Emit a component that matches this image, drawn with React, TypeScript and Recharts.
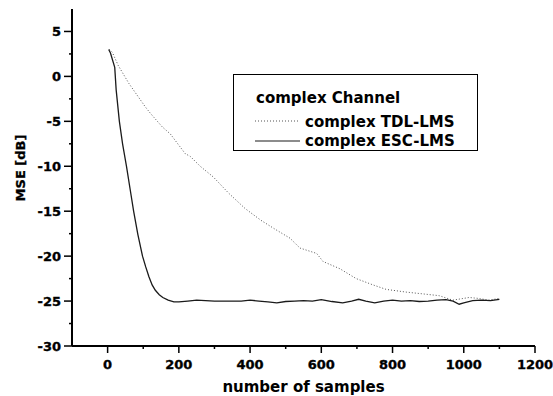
import { LineChart, Line, XAxis, YAxis, Legend, Label } from "recharts";

// samples / MSE
const tdlSamples = [5, 13, 30, 60, 106, 120, 153, 176, 218, 232, 260, 297, 340, 386, 430, 470, 512, 540, 587, 605, 652, 698, 745, 782, 838, 885, 931, 969, 1000, 1015, 1040, 1071, 1100];
const tdlMse = [3, 2.7, 1.2, -0.8, -3.4, -4.1, -5.6, -6.4, -8.6, -8.9, -10.0, -11.2, -13.0, -14.7, -16.0, -17.0, -18.0, -19.1, -19.7, -20.6, -21.4, -22.5, -23.2, -23.7, -24.0, -24.2, -24.4, -24.9, -24.7, -24.6, -24.7, -24.9, -24.7];

const escSamples = [3, 8, 20, 24, 33, 42, 53, 63, 73, 85, 98, 107, 116, 125, 134, 145, 155, 170, 186, 200, 225, 250, 275, 300, 325, 350, 375, 400, 425, 450, 475, 500, 525, 550, 575, 600, 630, 660, 685, 705, 725, 750, 775, 800, 825, 850, 875, 900, 925, 950, 970, 987, 1000, 1025, 1050, 1075, 1100];
const escMse = [3, 2.6, 1, -1.5, -5, -7.5, -10, -12.5, -15, -17.6, -20, -21.2, -22.3, -23.2, -23.8, -24.3, -24.6, -24.9, -25.1, -25.1, -25.0, -24.9, -24.95, -25.0, -25.0, -25.0, -25.0, -24.9, -25.0, -25.1, -25.2, -25.05, -25.0, -24.95, -25.0, -24.85, -25.05, -25.2, -25.0, -24.8, -25.0, -25.2, -25.0, -24.9, -25.0, -24.95, -25.05, -25.0, -24.9, -24.85, -25.0, -25.35, -25.2, -24.95, -24.9, -24.95, -24.8];

const xTicks = [0, 100, 200, 300, 400, 500, 600, 700, 800, 900, 1000, 1100, 1200];
const yTicks = [-30, -27.5, -25, -22.5, -20, -17.5, -15, -12.5, -10, -7.5, -5, -2.5, 0, 2.5, 5];

const legendTitle = "complex Channel";
const legendOrder = ["complex TDL-LMS", "complex ESC-LMS"];

const tdlData = tdlSamples.map((x, i) => ({ x, y: tdlMse[i] }));
const escData = escSamples.map((x, i) => ({ x, y: escMse[i] }));

const font = "DejaVu Sans";

const XTick = (props: any) => {
  const { x, y, payload } = props;
  const major = payload.value % 200 === 0;
  return (
    <g>
      <line x1={x} x2={x} y1={y} y2={y + (major ? 7 : 3)} stroke="#000" strokeWidth={1.5} />
      {major && (
        <text x={x} y={y + 22.5} textAnchor="middle" fontFamily={font} fontWeight={700} fontSize={13} fill="#000" stroke="#000" strokeWidth={0.35}>
          {payload.value}
        </text>
      )}
    </g>
  );
};

const YTick = (props: any) => {
  const { x, y, payload } = props;
  const major = payload.value % 5 === 0;
  return (
    <g>
      <line x1={x - (major ? 8 : 3)} x2={x} y1={y} y2={y} stroke="#000" strokeWidth={1.5} />
      {major && (
        <text x={x - 11} y={y + 4.7} textAnchor="end" fontFamily={font} fontWeight={700} fontSize={13} fill="#000" stroke="#000" strokeWidth={0.35}>
          {payload.value}
        </text>
      )}
    </g>
  );
};

const renderLegend = (props: any) => {
  const items = [...(props.payload || [])].sort(
    (a: any, b: any) => legendOrder.indexOf(a.value) - legendOrder.indexOf(b.value)
  );
  return (
    <div style={{ width: 245, height: 77, border: "1.5px solid #000", boxSizing: "border-box", background: "#fff" }}>
      <svg width={242} height={74} style={{ display: "block" }}>
        <text x={22} y={28} fontFamily={font} fontWeight={700} fontSize={15} fill="#000">
          {legendTitle}
        </text>
        {items.map((entry: any, i: number) => (
          <g key={entry.value}>
            <line
              x1={21}
              x2={66}
              y1={46 + i * 20}
              y2={46 + i * 20}
              stroke={entry.color}
              strokeWidth={1.1}
              strokeDasharray={entry.payload?.strokeDasharray}
            />
            <text x={71} y={51.5 + i * 19} fontFamily={font} fontWeight={700} fontSize={15} fill="#000">
              {entry.value}
            </text>
          </g>
        ))}
      </svg>
    </div>
  );
};

const XLabel = (props: any) => {
  const { x, y, width } = props.viewBox;
  return (
    <text x={x + width / 2} y={y + 46} textAnchor="middle" fontFamily={font} fontWeight={700} fontSize={15} fill="#000">
      number of samples
    </text>
  );
};

const YLabel = () => {
  const cx = 25;
  const cy = 168;
  return (
    <text x={cx} y={cy} transform={`rotate(-90 ${cx} ${cy})`} textAnchor="middle" fontFamily={font} fontWeight={700} fontSize={13} fill="#000" stroke="#000" strokeWidth={0.3}>
      MSE [dB]
    </text>
  );
};

export default function App() {
  return (
    <div style={{ position: "absolute", left: 0, top: 0, background: "#fff" }}>
      <LineChart width={553} height={396} margin={{ top: 9, right: 18, left: 0, bottom: 0 }}>
        <XAxis
          type="number"
          dataKey="x"
          domain={[-100, 1200]}
          ticks={xTicks}
          allowDataOverflow
          height={50}
          tickSize={0}
          tickMargin={0}
          tickLine={false}
          tick={<XTick />}
          axisLine={{ stroke: "#000", strokeWidth: 2 }}
          interval={0}
        >
          <Label content={<XLabel />} />
        </XAxis>
        <YAxis
          type="number"
          dataKey="y"
          domain={[-30, 7.5]}
          ticks={yTicks}
          allowDataOverflow
          width={72}
          tickSize={0}
          tickMargin={0}
          tickLine={false}
          tick={<YTick />}
          axisLine={{ stroke: "#000", strokeWidth: 2 }}
          interval={0}
        >
          <Label content={<YLabel />} />
        </YAxis>
        <Legend
          layout="vertical"
          align="center"
          verticalAlign="middle"
          content={renderLegend}
          wrapperStyle={{ position: "absolute", left: 233, top: 74, width: 245, height: 77 }}
        />
        <Line
          data={tdlData}
          dataKey="y"
          name="complex TDL-LMS"
          type="linear"
          stroke="#555"
          strokeWidth={1}
          strokeDasharray="1 2"
          dot={false}
          isAnimationActive={false}
        />
        <Line
          data={escData}
          dataKey="y"
          name="complex ESC-LMS"
          type="linear"
          stroke="#1a1a1a"
          strokeWidth={1.3}
          dot={false}
          isAnimationActive={false}
        />
      </LineChart>
    </div>
  );
}
